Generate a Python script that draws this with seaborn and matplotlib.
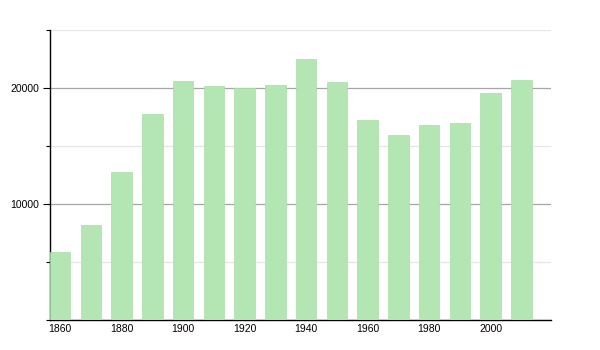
import matplotlib
matplotlib.use("Agg")
import matplotlib.pyplot as plt
import seaborn as sns
import pandas as pd
from matplotlib.ticker import MultipleLocator

years = [1860, 1870, 1880, 1890, 1900, 1910, 1920, 1930, 1940, 1950,
         1960, 1970, 1980, 1990, 2000, 2010]
population = [5900, 8230, 12800, 17800, 20620, 20130, 20040, 20300, 22540,
              20560, 17200, 15990, 16850, 16940, 19610, 20730]
xticks = [1860, 1880, 1900, 1920, 1940, 1960, 1980, 2000]

df = pd.DataFrame({"year": years, "pop": population})

sns.set_style("white")
plt.rcParams['font.family'] = ['Liberation Sans', 'DejaVu Sans']

fig = plt.figure(figsize=(6, 3.5), dpi=100)
ax = fig.add_axes([50/600, 1 - 320/350, 501/600, 290/350])

sns.barplot(data=df, x="year", y="pop", native_scale=True, width=0.667,
            color="#b3e6b3", saturation=1, edgecolor="#abdcab", linewidth=0.5,
            ax=ax, zorder=3)

ax.set_xlim(1856.67, 2019.6)
ax.set_ylim(0, 25000)
ax.set_xticks(xticks)
ax.set_xticklabels([str(t) for t in xticks])
ax.yaxis.set_major_locator(MultipleLocator(10000))
ax.yaxis.set_minor_locator(MultipleLocator(5000))
ax.set_yticks([10000, 20000])
ax.set_yticklabels(["10000", "20000"])

ax.grid(which="major", axis="y", color="#a6a6a6", linewidth=0.9, zorder=1)
ax.grid(which="minor", axis="y", color="#e6e6e6", linewidth=0.9, zorder=1)
ax.set_axisbelow(True)

for s in ["top", "right"]:
    ax.spines[s].set_visible(False)
ax.spines["left"].set_color("black")
ax.spines["bottom"].set_color("black")
ax.spines["left"].set_linewidth(1)
ax.spines["bottom"].set_linewidth(1)

ax.tick_params(axis="y", which="major", length=5, width=0.8, color="black",
               labelsize=7.5, pad=3, left=True, labelcolor="black")
ax.tick_params(axis="y", which="minor", length=3, width=0.8, color="black", left=True)
ax.tick_params(axis="x", length=0, labelsize=7.5, pad=3, labelcolor="black")
ax.set_xlabel("")
ax.set_ylabel("")

fig.savefig("out.png", dpi=100)
